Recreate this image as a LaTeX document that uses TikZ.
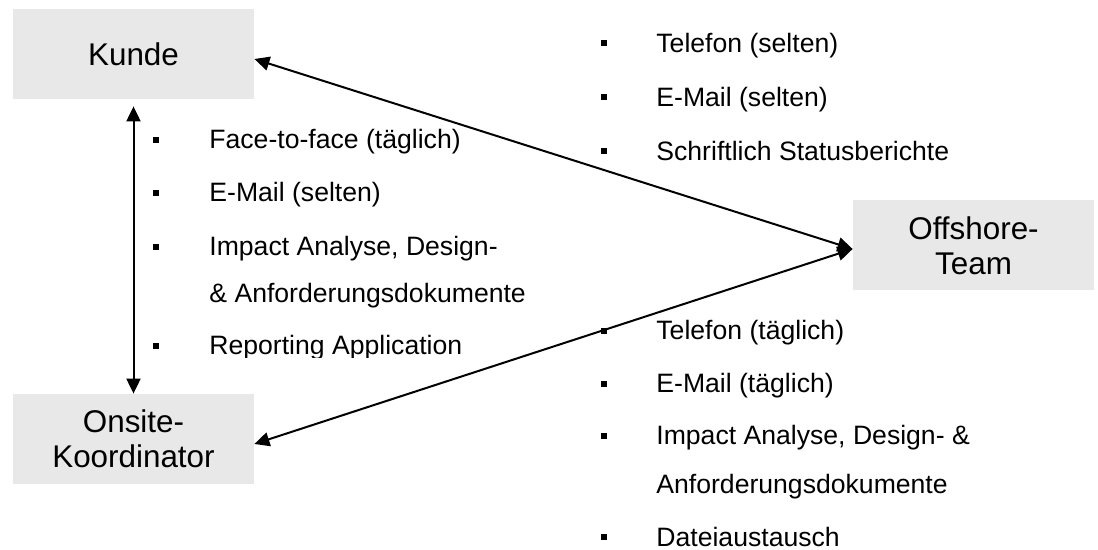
\documentclass[tikz,border=0pt]{standalone}
\usepackage{fontspec}
\setmainfont{Liberation Sans}
\usetikzlibrary{arrows.meta}
\definecolor{boxgray}{RGB}{232,232,232}

\begin{document}
\begin{tikzpicture}[x=0.5pt,y=-0.5pt,
  party/.style={fill=boxgray, minimum width=120.5pt, minimum height=45pt,
    inner sep=0pt, align=center, font=\fontsize{15.7}{17.5}\selectfont},
  item/.style={anchor=base west, inner sep=0pt, font=\fontsize{13.3}{16}\selectfont},
  sqbullet/.style={fill=black, minimum size=3.4pt, inner sep=0pt},
  link/.style={line width=1pt,
    {Triangle[length=7.5pt,width=7pt]}-{Triangle[length=7.5pt,width=7pt]}}]

\useasboundingbox (0,0) rectangle (1098,550);

% the three parties
\node[party] (kunde)    at (133.5,54)    {Kunde};
\node[party] (onsite)   at (133.5,439)   {Onsite-\\Koordinator};
\node[party] (offshore) at (973.5,245.5) {Offshore-\\Team};

% Kunde <-> Onsite-Koordinator
\node[sqbullet] (la) at (156,140) {};
\node[item] (ta) at (209,149) {Face-to-face (täglich)};
\node[sqbullet] (lb) at (156,193) {};
\node[item] (tb) at (209,202) {E-Mail (selten)};
\node[sqbullet] (lc) at (156,247) {};
\node[item] (tc) at (209,256) {Impact Analyse, Design-};
\node[item] (tc2) at (209,303) {\& Anforderungsdokumente};
\node[sqbullet] (ld) at (156,346) {};
\begin{scope}
  \clip (150,320) rectangle (620,357.5);
  \node[item] (td) at (209,355) {Reporting Application};
\end{scope}

% Kunde <-> Offshore-Team
\node[sqbullet] (ra) at (604,43) {};
\node[item] (sa) at (656,53) {Telefon (selten)};
\node[sqbullet] (rb) at (604,97) {};
\node[item] (sb) at (656,107) {E-Mail (selten)};
\node[sqbullet] (rc) at (604,151) {};
\node[item] (sc) at (656,161) {Schriftlich Statusberichte};

% Onsite-Koordinator <-> Offshore-Team
\node[sqbullet] (qa) at (604,331) {};
\node[item] (ua) at (656,340) {Telefon (täglich)};
\node[sqbullet] (qb) at (604,384) {};
\node[item] (ub) at (656,393) {E-Mail (täglich)};
\node[sqbullet] (qc) at (604,436) {};
\node[item] (uc) at (656,445) {Impact Analyse, Design- \&};
\node[item] (uc2) at (656,494) {Anforderungsdokumente};
\node[sqbullet] (qd) at (604,537) {};
\node[item] (ud) at (656,546) {Dateiaustausch};

% communication links
\draw[link] ([yshift=-3.5pt]kunde.south) -- (onsite.north);
\draw[link] ([yshift=-2.5pt]kunde.east) -- ([yshift=-1.75pt]offshore.west);
\draw[link] ([yshift=-2.5pt]onsite.east) -- ([yshift=-1.75pt]offshore.west);
\end{tikzpicture}
\end{document}
